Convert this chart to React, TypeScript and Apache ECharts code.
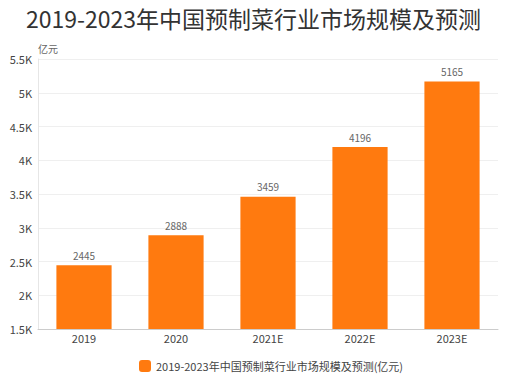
import React, { useEffect, useRef } from "react";
import * as echarts from "echarts";

const categories = ["2019", "2020", "2021E", "2022E", "2023E"];
const values = [2445, 2888, 3459, 4196, 5165];
const seriesName = "2019-2023年中国预制菜行业市场规模及预测(亿元)";
const titleText = "2019-2023年中国预制菜行业市场规模及预测";
const unitName = "亿元";

export default function App() {
  const ref = useRef<HTMLDivElement>(null);
  useEffect(() => {
    document.body.style.margin = "0";
    const chart = echarts.init(ref.current!, null, { renderer: "svg" });
    const font = "'Noto Sans CJK SC', 'Noto Sans', sans-serif";
    chart.setOption({
      animation: false,
      textStyle: { fontFamily: font },
      title: {
        text: titleText,
        left: "center",
        top: 1,
        textStyle: { fontSize: 23, fontWeight: "normal", color: "#333", fontFamily: font },
      },
      legend: {
        top: 355,
        left: 134,
        itemWidth: 12,
        itemHeight: 12,
        itemGap: 4,
        icon: "roundRect",
        textStyle: { fontSize: 11, color: "#444", fontFamily: font },
        data: [seriesName],
      },
      grid: { left: 38, right: 9, top: 59, bottom: 47 },
      xAxis: {
        type: "category",
        data: categories,
        axisTick: { show: false },
        axisLine: { lineStyle: { color: "#ccc" } },
        axisLabel: { fontSize: 11, color: "#444", margin: 3 },
      },
      yAxis: {
        type: "value",
        min: 1500,
        max: 5500,
        interval: 500,
        name: unitName,
        nameGap: 6,
        nameTextStyle: { fontSize: 10, color: "#666", align: "left", padding: [0, 0, 0, 0] },
        axisLine: { show: true, lineStyle: { color: "#e6e6e6" } },
        axisTick: { show: false },
        splitLine: { lineStyle: { color: "#efefef" } },
        axisLabel: {
          fontSize: 11,
          color: "#444",
          margin: 6,
          formatter: (v: number) => v / 1000 + "K",
        },
      },
      series: [
        {
          name: seriesName,
          type: "bar",
          data: values,
          barWidth: "60%",
          itemStyle: { color: "#ff7a0f" },
          label: { show: true, position: "top", fontSize: 10, color: "#666", distance: 5 },
        },
      ],
    });
    return () => chart.dispose();
  }, []);
  return <div ref={ref} style={{ width: 507, height: 376 }} />;
}
